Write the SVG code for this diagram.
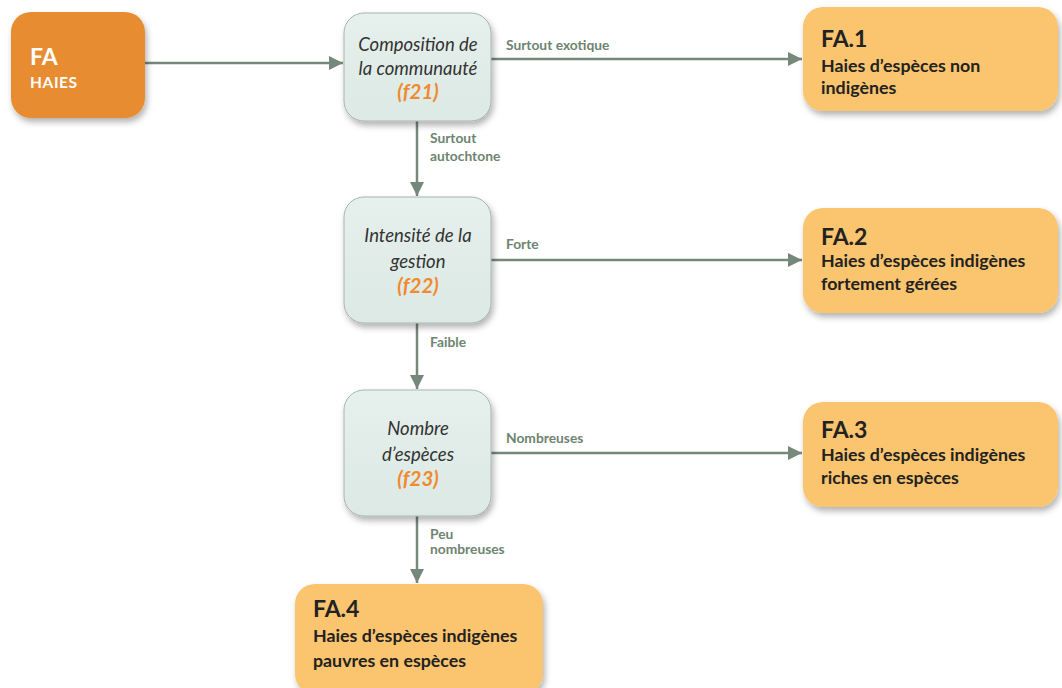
<svg xmlns="http://www.w3.org/2000/svg" width="1062" height="688" viewBox="0 0 1062 688">
<defs>
<filter id="sh" x="-20%" y="-20%" width="140%" height="150%">
<feDropShadow dx="2" dy="4" stdDeviation="3" flood-color="#000" flood-opacity="0.3"/>
</filter>
<linearGradient id="gq" x1="0" y1="0" x2="0" y2="1">
<stop offset="0" stop-color="#e6f0ec"/>
<stop offset="1" stop-color="#dce9e4"/>
</linearGradient>
<marker id="ah" viewBox="0 0 10 10" refX="10" refY="5" markerWidth="18" markerHeight="14" markerUnits="userSpaceOnUse" orient="auto">
<path d="M0,0 L10,5 L0,10 Z" fill="#76887a"/>
</marker>
<style>
.ln{stroke:#76887a;stroke-width:2.5;fill:none}
.lbl{font-family:Lato,"Open Sans",sans-serif;font-weight:bold;font-size:13.8px;fill:#6e8470}
.q{fill:url(#gq);stroke:#a9b4b0;stroke-width:1}
.qt{font-family:Lato,"Open Sans",sans-serif;font-style:italic;font-weight:normal;font-size:18.5px;fill:#333;text-anchor:middle}
.qf{font-family:Lato,"Open Sans",sans-serif;font-style:italic;font-weight:bold;font-size:20.5px;fill:#f08a30;text-anchor:middle}
.res{fill:#fbc46e}
.rh{font-family:Lato,"Open Sans",sans-serif;font-weight:bold;font-size:23px;fill:#222}
.rt{font-family:Lato,"Open Sans",sans-serif;font-weight:bold;font-size:17.8px;fill:#222}
</style>
</defs>
<rect width="1062" height="688" fill="#fff"/>
<g id="connectors">
<path class="ln" d="M145,63 H343" marker-end="url(#ah)"/>
<path class="ln" d="M491,59 H802" marker-end="url(#ah)"/>
<path class="ln" d="M417,121 V196" marker-end="url(#ah)"/>
<path class="ln" d="M491,260 H802" marker-end="url(#ah)"/>
<path class="ln" d="M417,323 V389" marker-end="url(#ah)"/>
<path class="ln" d="M491,453 H802" marker-end="url(#ah)"/>
<path class="ln" d="M417,516 V583" marker-end="url(#ah)"/>
<text class="lbl" x="506" y="50">Surtout exotique</text>
<text class="lbl" x="430" y="143">Surtout</text>
<text class="lbl" x="430" y="161">autochtone</text>
<text class="lbl" x="506" y="249">Forte</text>
<text class="lbl" x="430" y="347">Faible</text>
<text class="lbl" x="506" y="443">Nombreuses</text>
<text class="lbl" x="430" y="539">Peu</text>
<text class="lbl" x="430" y="554">nombreuses</text>
</g>
<g id="FA">
<rect x="11" y="12" width="134" height="106" rx="20" fill="#e88c30" filter="url(#sh)"/>
<text x="30" y="65" font-family="Lato,'Open Sans',sans-serif" font-weight="bold" font-size="23" fill="#fff">FA</text>
<text x="30" y="88" font-family="Lato,'Open Sans',sans-serif" font-weight="bold" font-size="15.5" fill="#fff" letter-spacing="0.6">HAIES</text>
</g>
<g id="f21">
<rect class="q" x="344" y="13" width="147" height="108" rx="20" filter="url(#sh)"/>
<text class="qt" x="418" y="51">Composition de</text>
<text class="qt" x="418" y="75">la communauté</text>
<text class="qf" x="418" y="99">(f21)</text>
</g>
<g id="f22">
<rect class="q" x="344" y="197" width="147" height="126" rx="20" filter="url(#sh)"/>
<text class="qt" x="418" y="242">Intensité de la</text>
<text class="qt" x="418" y="268">gestion</text>
<text class="qf" x="418" y="293">(f22)</text>
</g>
<g id="f23">
<rect class="q" x="344" y="390" width="147" height="126" rx="20" filter="url(#sh)"/>
<text class="qt" x="418" y="435">Nombre</text>
<text class="qt" x="418" y="461">d’espèces</text>
<text class="qf" x="418" y="486">(f23)</text>
</g>
<g id="FA1">
<rect class="res" x="803" y="7" width="255" height="104" rx="20" filter="url(#sh)"/>
<text class="rh" x="821" y="47">FA.1</text>
<text class="rt" x="821" y="72">Haies d’espèces non</text>
<text class="rt" x="821" y="94">indigènes</text>
</g>
<g id="FA2">
<rect class="res" x="803" y="208" width="255" height="105" rx="20" filter="url(#sh)"/>
<text class="rh" x="821" y="245">FA.2</text>
<text class="rt" x="821" y="267">Haies d’espèces indigènes</text>
<text class="rt" x="821" y="290">fortement gérées</text>
</g>
<g id="FA3">
<rect class="res" x="803" y="402" width="255" height="105" rx="20" filter="url(#sh)"/>
<text class="rh" x="821" y="438">FA.3</text>
<text class="rt" x="821" y="461">Haies d’espèces indigènes</text>
<text class="rt" x="821" y="484">riches en espèces</text>
</g>
<g id="FA4">
<rect class="res" x="295" y="584" width="248" height="110" rx="20" filter="url(#sh)"/>
<text class="rh" x="313" y="617">FA.4</text>
<text class="rt" x="313" y="642">Haies d’espèces indigènes</text>
<text class="rt" x="313" y="667">pauvres en espèces</text>
</g>
</svg>
